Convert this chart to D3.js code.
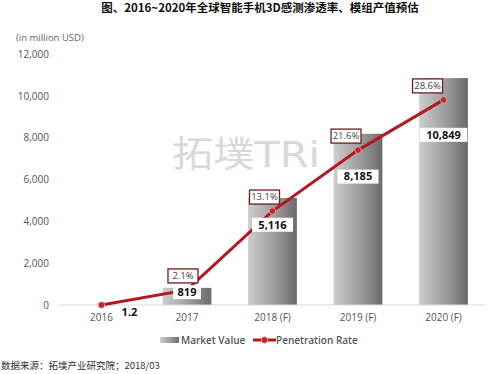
<!DOCTYPE html>
<html>
<head>
<meta charset="utf-8">
<script src="https://cdn.jsdelivr.net/npm/d3@7"></script>
<style>
  body { margin: 0; background: #fff; }
  text { font-family: "Open Sans", "Noto Sans CJK SC", sans-serif; }
</style>
</head>
<body>
<div id="chart"></div>
<script>
// chart data
var years = ["2016", "2017", "2018 (F)", "2019 (F)", "2020 (F)"];
var marketValue = [1.2, 819, 5116, 8185, 10849];
var valueLabels = ["1.2", "819", "5,116", "8,185", "10,849"];
var penetration = [0, 2.1, 13.1, 21.6, 28.6];
var yTicks = [0, 2000, 4000, 6000, 8000, 10000, 12000];

var width = 499, height = 374;
var margins = { top: 54, right: 14, bottom: 69, left: 60 };

var svg = d3.select("#chart").append("svg")
  .attr("width", width).attr("height", height);

var defs = svg.append("defs");
var grad = defs.append("linearGradient").attr("id", "barGrad")
  .attr("x1", "0%").attr("x2", "100%").attr("y1", "0%").attr("y2", "0%");
grad.append("stop").attr("offset", "0%").attr("stop-color", "#cdcdcd");
grad.append("stop").attr("offset", "55%").attr("stop-color", "#9c9c9c");
grad.append("stop").attr("offset", "100%").attr("stop-color", "#6a6a6a");

var x = d3.scaleBand().domain(years).range([margins.left, width - margins.right]).paddingInner(0.43).paddingOuter(0.2);
var y = d3.scaleLinear().domain([0, 12000]).range([height - margins.bottom, margins.top]);
// hidden secondary axis for the rate line
var y2 = d3.scaleLinear().domain([0, 35]).range([height - margins.bottom, margins.top]);

function cx(d) { return x(d) + x.bandwidth() / 2; }

// title
svg.append("text").attr("x", 260).attr("y", 12).attr("text-anchor", "middle")
  .style("font-size", "11.5px").style("font-weight", "bold").attr("fill", "#111")
  .style("font-family", "'Noto Sans CJK SC', sans-serif")
  .text("图、2016~2020年全球智能手机3D感测渗透率、模组产值预估");

svg.append("text").attr("x", 16).attr("y", 41)
  .style("font-size", "9.5px").attr("fill", "#666").text("(in million USD)");

// y axis labels only
var yAxis = svg.append("g").attr("transform", "translate(49,0)")
  .call(d3.axisLeft(y).tickValues(yTicks).tickFormat(d3.format(",")).tickSize(0));
yAxis.select(".domain").remove();
yAxis.selectAll("text").attr("fill", "#555").style("font-size", "10px").attr("x", 0);

// watermark
svg.append("text").attr("x", 172).attr("y", 167)
  .style("font-size", "36px").attr("fill", "#d9d9d9")
  .style("font-family", "'DejaVu Sans', 'Noto Sans CJK SC', sans-serif")
  .attr("textLength", 148).attr("lengthAdjust", "spacingAndGlyphs")
  .text("拓墣TRi");

// bars
svg.append("g").selectAll("rect").data(marketValue).join("rect")
  .attr("x", function (d, i) { return x(years[i]); })
  .attr("y", function (d) { return y(d); })
  .attr("width", x.bandwidth())
  .attr("height", function (d) { return y(0) - y(d); })
  .attr("fill", "url(#barGrad)");

// baseline
svg.append("line").attr("x1", margins.left).attr("x2", width - margins.right)
  .attr("y1", y(0)).attr("y2", y(0)).attr("stroke", "#d9d9d9").attr("stroke-width", 1);

// x axis labels
var xAxis = svg.append("g").attr("transform", "translate(0," + (y(0) + 4) + ")")
  .call(d3.axisBottom(x).tickSize(0));
xAxis.select(".domain").remove();
xAxis.selectAll("text").attr("fill", "#555").style("font-size", "10px").attr("dy", "0.9em");

// rate line
var line = d3.line().x(function (d, i) { return cx(years[i]); }).y(function (d) { return y2(d); });
svg.append("path").datum(penetration).attr("d", line)
  .attr("fill", "none").attr("stroke", "#b3191f").attr("stroke-width", 3);
svg.append("g").selectAll("circle").data(penetration).join("circle")
  .attr("cx", function (d, i) { return cx(years[i]); })
  .attr("cy", function (d) { return y2(d); })
  .attr("r", 3.2).attr("fill", "#c0262b").attr("stroke", "#e8a0a0").attr("stroke-width", 0.8);

// rate labels
var rateG = svg.append("g").selectAll("g").data(penetration.slice(1)).join("g")
  .attr("transform", function (d, i) {
    var px = cx(years[i + 1]) - 4 - i * 4, py = y2(d) - 14;
    return "translate(" + px + "," + py + ")";
  });
rateG.append("rect").attr("x", -15).attr("y", -7).attr("width", 30).attr("height", 14)
  .attr("fill", "#fff").attr("stroke", "#6e1c1f").attr("stroke-width", 1.3);
rateG.append("text").attr("text-anchor", "middle").attr("dy", "0.35em")
  .style("font-size", "9.5px").attr("fill", "#444")
  .text(function (d) { return d.toFixed(1) + "%"; });

// value labels
var valG = svg.append("g").selectAll("g").data(marketValue).join("g")
  .attr("transform", function (d, i) {
    if (d < 10) return "translate(" + (cx(years[i]) + 28) + "," + (y(0) + 7) + ")";
    var py = Math.min(y(d * 0.75), y(0) - 7);
    return "translate(" + cx(years[i]) + "," + py + ")";
  });
valG.append("rect")
  .attr("x", function (d, i) { return -valueLabels[i].length * 3.3 - 4; })
  .attr("y", -7)
  .attr("width", function (d, i) { return valueLabels[i].length * 6.6 + 8; })
  .attr("height", 14)
  .attr("fill", function (d) { return d < 10 ? "none" : "#fff"; });
valG.append("text").attr("text-anchor", "middle").attr("dy", "0.35em")
  .style("font-size", "11px").style("font-weight", "bold").attr("fill", "#111")
  .text(function (d, i) { return valueLabels[i]; });

// legend
var lg = svg.append("g").attr("transform", "translate(160,340)");
lg.append("rect").attr("x", 0).attr("y", -3).attr("width", 19).attr("height", 6).attr("fill", "url(#barGrad)");
lg.append("text").attr("x", 21).attr("dy", "0.35em").style("font-size", "10px")
  .style("font-weight", "600").attr("fill", "#555").text("Market Value");
lg.append("line").attr("x1", 93).attr("x2", 116).attr("stroke", "#b3191f").attr("stroke-width", 3);
lg.append("circle").attr("cx", 104.5).attr("r", 3.2).attr("fill", "#c0262b").attr("stroke", "#e8a0a0").attr("stroke-width", 0.8);
lg.append("text").attr("x", 116).attr("dy", "0.35em").style("font-size", "10px")
  .style("font-weight", "600").attr("fill", "#555").text("Penetration Rate");

// source note
svg.append("text").attr("x", 1).attr("y", 369).style("font-size", "9.5px").attr("fill", "#333")
  .style("font-family", "'Noto Sans CJK SC', sans-serif")
  .text("数据来源：拓墣产业研究院；2018/03");
</script>
</body>
</html>
